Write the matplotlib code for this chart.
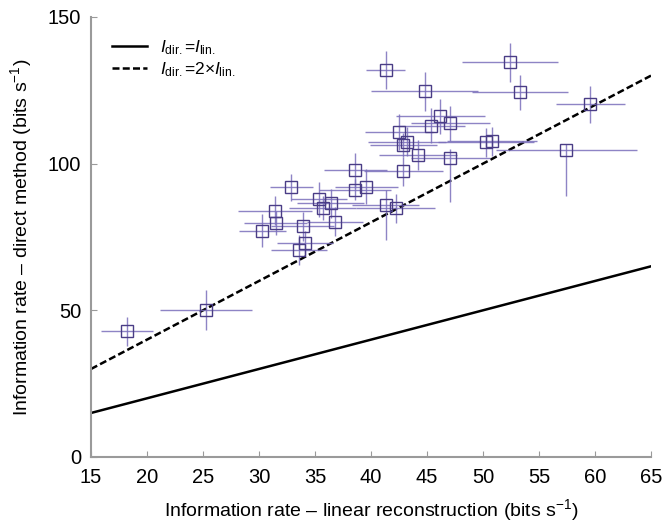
import numpy as np
import matplotlib
matplotlib.use('Agg')
import matplotlib.pyplot as plt
from matplotlib.lines import Line2D

plt.rcParams['font.family'] = ['Liberation Sans', 'DejaVu Sans']
plt.rcParams['mathtext.fontset'] = 'custom'
plt.rcParams['mathtext.rm'] = 'Liberation Sans'
plt.rcParams['mathtext.it'] = 'Liberation Sans:italic'

# linear reconstruction rate (x) vs direct method rate (y), bits/s
lin_rate = [18.2, 25.3, 30.3, 31.4, 31.5, 32.9, 33.6, 34.1, 33.9, 35.4, 35.7,
            36.4, 36.8, 38.6, 38.6, 39.6, 41.3, 41.3, 42.2, 42.5, 43.2, 42.9,
            42.9, 44.2, 44.8, 45.4, 46.2, 47.1, 47.1, 50.3, 50.8, 52.4, 53.3,
            57.45, 59.6]
dir_rate = [42.8, 50.2, 77.2, 84.0, 79.7, 91.9, 70.6, 73.0, 78.6, 87.9, 84.8,
            86.5, 80.2, 97.7, 91.1, 92.2, 132.0, 86.0, 84.8, 110.8, 107.5, 106.3,
            97.4, 103.0, 124.6, 112.9, 116.1, 113.8, 101.9, 107.3, 107.6, 134.5, 124.3,
            104.8, 120.2]
lin_err = [2.3, 4.1, 2.1, 3.3, 2.8, 1.9, 2.5, 2.5, 2.8, 2.5, 3.0,
           3.0, 2.5, 2.8, 3.2, 2.8, 1.7, 3.0, 3.5, 3.0, 3.5, 3.0,
           3.5, 3.5, 4.8, 3.0, 4.0, 3.5, 3.5, 4.3, 4.0, 4.3, 4.3,
           6.3, 3.1]
dir_err_lo = [5.0, 6.8, 5.5, 5.0, 4.0, 4.5, 5.0, 4.0, 5.0, 6.0, 4.0,
              5.0, 5.0, 6.0, 3.5, 6.0, 6.4, 12.0, 5.0, 6.0, 5.0, 4.0,
              5.0, 5.0, 6.5, 6.0, 6.0, 6.0, 15.0, 5.0, 5.0, 6.5, 6.0,
              16.0, 6.3]
dir_err_hi = [5.0, 6.8, 5.5, 5.0, 4.0, 4.5, 5.0, 4.0, 5.0, 6.0, 4.0,
              5.0, 5.0, 6.0, 3.5, 6.0, 6.4, 5.0, 5.0, 6.0, 5.0, 4.0,
              5.0, 5.0, 6.5, 6.0, 6.0, 6.0, 3.0, 5.0, 5.0, 6.5, 6.0,
              2.0, 6.3]

x_ticks = [15, 20, 25, 30, 35, 40, 45, 50, 55, 60, 65]
y_ticks = [0, 50, 100, 150]

fig = plt.figure(figsize=(6.68, 5.24), dpi=100)
ax = fig.add_axes([0.1362, 0.1279, 0.8383, 0.8397])

dash = (0, (2.8, 1.3))
line_x = np.array([15, 65])
ax.plot(line_x, line_x, color='black', lw=1.8, zorder=2)
ax.plot(line_x, 2 * line_x, color='black', lw=1.8, ls=dash, zorder=2)

ax.errorbar(lin_rate, dir_rate, xerr=lin_err, yerr=[dir_err_lo, dir_err_hi],
            fmt='none', ecolor='#7a6fbb', elinewidth=1.0, alpha=0.85, capsize=0, zorder=3)
ax.plot(lin_rate, dir_rate, ls='none', marker='s', markersize=9,
        markerfacecolor='none', markeredgecolor='#4a3d86', markeredgewidth=1.0, zorder=4)

ax.set_xlim(15, 65)
ax.set_ylim(0, 150)
ax.set_xticks(x_ticks)
ax.set_yticks(y_ticks)
for side in ['top', 'right']:
    ax.spines[side].set_visible(False)
for side in ['left', 'bottom']:
    ax.spines[side].set_color('#9a9a9a')
    ax.spines[side].set_linewidth(1.5)
ax.tick_params(direction='in', length=4, color='#9a9a9a', labelsize=14.5)
ax.tick_params(axis='x', pad=8)
ax.tick_params(axis='y', pad=7)

ax.set_xlabel('Information rate \u2013 linear reconstruction (bits s$^{\u22121}$)', fontsize=14, labelpad=7)
ax.set_ylabel('Information rate \u2013 direct method (bits s$^{\u22121}$)', fontsize=14, labelpad=10)

handles = [Line2D([0], [0], color='black', lw=1.8),
           Line2D([0], [0], color='black', lw=1.8, ls=dash)]
labels = [r'$I_{\mathrm{dir.}}$=$I_{\mathrm{lin.}}$',
          r'$I_{\mathrm{dir.}}$=2$\times$$I_{\mathrm{lin.}}$']
ax.legend(handles, labels, loc='upper left', frameon=False, fontsize=12.5,
          handlelength=2.0, handletextpad=0.8, labelspacing=0.2,
          bbox_to_anchor=(0.0, 1.0), borderaxespad=0.8)

fig.savefig('out.png', dpi=100)
